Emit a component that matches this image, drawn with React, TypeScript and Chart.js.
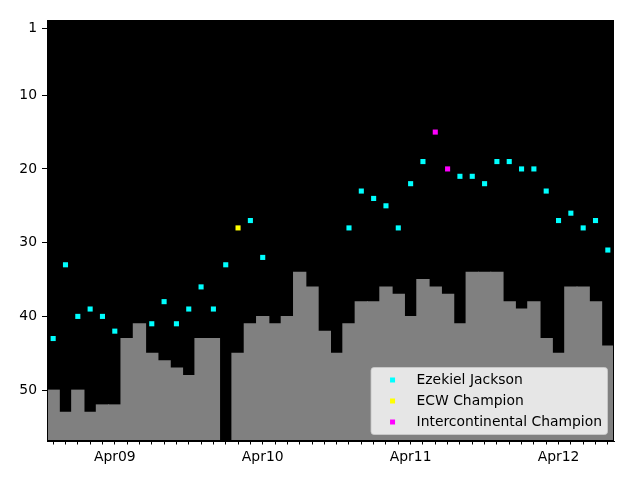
import React, { useEffect, useRef } from 'react';
import { Chart, registerables } from 'chart.js';

Chart.register(...registerables);

// Monthly categories (Nov 2008 .. Aug 2012)
const months = [
  'Nov08', 'Dec08', 'Jan09', 'Feb09', 'Mar09', 'Apr09', 'May09', 'Jun09', 'Jul09', 'Aug09', 'Sep09', 'Oct09',
  'Nov09', 'Dec09', 'Jan10', 'Feb10', 'Mar10', 'Apr10', 'May10', 'Jun10', 'Jul10', 'Aug10', 'Sep10', 'Oct10',
  'Nov10', 'Dec10', 'Jan11', 'Feb11', 'Mar11', 'Apr11', 'May11', 'Jun11', 'Jul11', 'Aug11', 'Sep11', 'Oct11',
  'Nov11', 'Dec11', 'Jan12', 'Feb12', 'Mar12', 'Apr12', 'May12', 'Jun12', 'Jul12', 'Aug12',
];

// Gray background bars (rank level)
const rankBars: (number | null)[] = [
  50, 53, 50, 53, 52, 52, 43, 41, 45, 46, 47, 48,
  43, 43, null, 45, 41, 40, 41, 40, 34, 36, 42, 45,
  41, 38, 38, 36, 37, 40, 35, 36, 37, 41, 34, 34,
  34, 38, 39, 38, 43, 45, 36, 36, 38, 44,
];

// Ezekiel Jackson monthly rank
const ezekielJackson: (number | null)[] = [
  43, 33, 40, 39, 40, 42, null, null, 41, 38, 41, 39,
  36, 39, 33, null, 27, 32, null, null, null, null, null, null,
  28, 23, 24, 25, 28, 22, 19, null, null, 21, 21, 22,
  19, 19, 20, 20, 23, 27, 26, 28, 27, 31,
];

// ECW Champion months
const ecwChampion: (number | null)[] = [
  null, null, null, null, null, null, null, null, null, null, null, null,
  null, null, null, 28, null, null, null, null, null, null, null, null,
  null, null, null, null, null, null, null, null, null, null, null, null,
  null, null, null, null, null, null, null, null, null, null,
];

// Intercontinental Champion months
const icChampion: (number | null)[] = [
  null, null, null, null, null, null, null, null, null, null, null, null,
  null, null, null, null, null, null, null, null, null, null, null, null,
  null, null, null, null, null, null, null, 15, 20, null, null, null,
  null, null, null, null, null, null, null, null, null, null,
];

const yTicks = [1, 10, 20, 30, 40, 50];
const Y_MIN = -0.2;
const Y_MAX = 56.9;

const FONT = { family: '"DejaVu Sans", sans-serif', size: 13.9 };

const toPoints = (arr: (number | null)[]) =>
  arr
    .map((v, i) => (v == null ? null : { x: i, y: v }))
    .filter((p) => p !== null) as { x: number; y: number }[];

const toBars = (arr: (number | null)[]) =>
  arr
    .map((v, i) => (v == null ? null : { x: i, y: [v, Y_MAX] }))
    .filter((p) => p !== null) as any[];

const bgPlugin = {
  id: 'plotBg',
  beforeDraw(chart: any) {
    const { ctx, chartArea } = chart;
    ctx.save();
    ctx.fillStyle = '#000000';
    ctx.fillRect(chartArea.left, chartArea.top, chartArea.right - chartArea.left, chartArea.bottom - chartArea.top);
    ctx.restore();
  },
  afterDatasetsDraw(chart: any) {
    const { ctx, chartArea } = chart;
    ctx.save();
    ctx.strokeStyle = '#000000';
    ctx.lineWidth = 1;
    ctx.strokeRect(chartArea.left + 0.5, chartArea.top + 0.5, chartArea.right - chartArea.left - 1, chartArea.bottom - chartArea.top - 1);
    ctx.restore();
  },
};

const legendPlugin = {
  id: 'customLegend',
  afterDraw(chart: any) {
    const { ctx, chartArea } = chart;
    const items = chart.data.datasets
      .filter((d: any) => d.type === 'scatter')
      .map((d: any) => ({ label: d.label, color: d.backgroundColor }));
    ctx.save();
    ctx.font = `${FONT.size}px ${FONT.family}`;
    const textW = Math.max(...items.map((it: any) => ctx.measureText(it.label).width));
    const rowH = 21;
    const boxW = 45 + textW + 6;
    const boxH = items.length * rowH + 4;
    const right = chartArea.right - 6.5;
    const bottom = chartArea.bottom - 6.5;
    const left = right - boxW;
    const top = bottom - boxH;
    const r = 3;
    ctx.beginPath();
    ctx.moveTo(left + r, top);
    ctx.lineTo(right - r, top);
    ctx.quadraticCurveTo(right, top, right, top + r);
    ctx.lineTo(right, bottom - r);
    ctx.quadraticCurveTo(right, bottom, right - r, bottom);
    ctx.lineTo(left + r, bottom);
    ctx.quadraticCurveTo(left, bottom, left, bottom - r);
    ctx.lineTo(left, top + r);
    ctx.quadraticCurveTo(left, top, left + r, top);
    ctx.closePath();
    ctx.fillStyle = 'rgba(255,255,255,0.8)';
    ctx.fill();
    ctx.strokeStyle = 'rgba(204,204,204,0.8)';
    ctx.lineWidth = 1;
    ctx.stroke();
    ctx.textBaseline = 'middle';
    ctx.textAlign = 'left';
    items.forEach((it: any, i: number) => {
      const cy = top + 12.5 + i * rowH;
      ctx.fillStyle = it.color;
      ctx.fillRect(left + 19, cy - 2.5, 5, 5);
      ctx.fillStyle = '#000000';
      ctx.fillText(it.label, left + 45.5, cy);
    });
    ctx.restore();
  },
};

export default function App() {
  const canvasRef = useRef<HTMLCanvasElement | null>(null);

  useEffect(() => {
    if (!canvasRef.current) return;
    const scatterBase = {
      type: 'scatter' as const,
      pointStyle: 'rect',
      pointRadius: 3.6,
      pointHoverRadius: 3.6,
      borderWidth: 0,
      order: 1,
    };
    const chart = new Chart(canvasRef.current, {
      type: 'bar',
      data: {
        datasets: [
          {
            type: 'bar',
            label: 'rank',
            data: toBars(rankBars),
            backgroundColor: '#808080',
            borderWidth: 0,
            barPercentage: 1,
            categoryPercentage: 1,
            inflateAmount: 0.5,
            order: 2,
          } as any,
          { ...scatterBase, label: 'Ezekiel Jackson', data: toPoints(ezekielJackson), backgroundColor: '#00ffff', borderColor: '#00ffff' } as any,
          { ...scatterBase, label: 'ECW Champion', data: toPoints(ecwChampion), backgroundColor: '#ffff00', borderColor: '#ffff00' } as any,
          { ...scatterBase, label: 'Intercontinental Champion', data: toPoints(icChampion), backgroundColor: '#ff00ff', borderColor: '#ff00ff' } as any,
        ],
      },
      options: {
        animation: false,
        responsive: false,
        devicePixelRatio: 1,
        layout: { padding: { top: 20, right: 26, left: 0, bottom: 0 } },
        plugins: { legend: { display: false }, tooltip: { enabled: false } },
        scales: {
          x: {
            type: 'linear',
            offset: false,
            min: -0.5,
            max: months.length - 0.5,
            afterBuildTicks: (s: any) => {
              s.ticks = months.map((_, i) => ({ value: i }));
            },
            afterFit: (s: any) => {
              s.height = 39;
            },
            ticks: {
              autoSkip: false,
              maxRotation: 0,
              minRotation: 0,
              color: '#000000',
              font: FONT,
              padding: 5,
              callback: (v: any) => {
                const m = months[Math.round(Number(v))];
                return m && m.startsWith('Apr') ? m : '';
              },
            },
            grid: { offset: false, drawOnChartArea: false, tickLength: 3.5, tickColor: '#000000' },
            border: { display: true, color: '#000000', width: 1 },
          },
          y: {
            type: 'linear',
            reverse: true,
            min: Y_MIN,
            max: Y_MAX,
            afterBuildTicks: (s: any) => {
              s.ticks = yTicks.map((v) => ({ value: v }));
            },
            afterFit: (s: any) => {
              s.width = 47;
            },
            ticks: { color: '#000000', font: FONT, padding: 5 },
            grid: { drawOnChartArea: false, tickLength: 5, tickColor: '#000000' },
            border: { display: true, color: '#000000', width: 1 },
          },
        },
      } as any,
      plugins: [bgPlugin, legendPlugin],
    });
    return () => chart.destroy();
  }, []);

  return (
    <div style={{ position: 'fixed', left: 0, top: 0, width: 640, height: 480, background: '#ffffff' }}>
      <canvas ref={canvasRef} width={640} height={480} style={{ display: 'block' }} />
    </div>
  );
}
